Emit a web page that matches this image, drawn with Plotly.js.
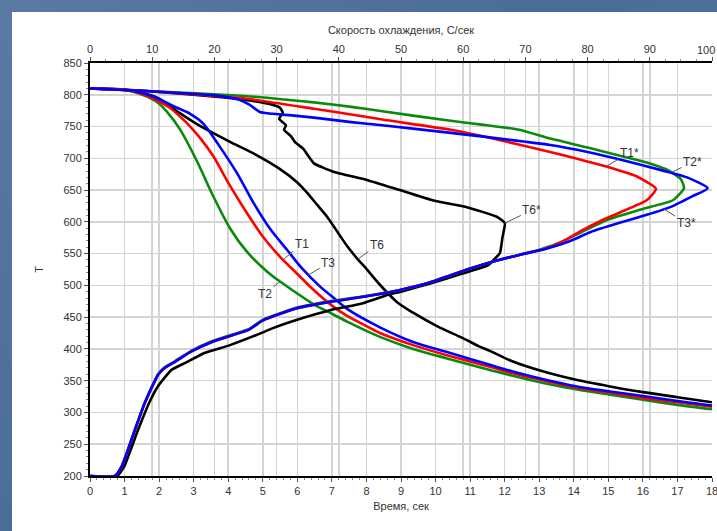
<!DOCTYPE html>
<html>
<head>
<meta charset="utf-8">
<script src="https://cdn.plot.ly/plotly-3.0.1.min.js"></script>
<style>
  html, body { margin:0; padding:0; width:717px; height:531px; overflow:hidden;
    background: linear-gradient(135deg, #5a7aa4 0%, #4b6c97 45%, #56779f 100%); }
  #panel { position:absolute; left:12px; top:12px; width:705px; height:519px; background:#ffffff; overflow:hidden; }
  #chart { width:720px; height:519px; }
</style>
</head>
<body>
<div id="panel"><div id="chart"></div></div>
<script>
// ---- cooling curves: time (s) vs temperature ----
const time_T1 = [0, 0.5, 1.0, 1.3, 1.6, 1.94, 2.3, 2.6, 2.9, 3.2, 3.56, 4.05, 4.54, 5.0, 5.5, 6.0, 6.45, 7.03, 7.44, 8.0, 8.39, 9.35, 10.33, 11.57, 12.2, 13.15, 14.1, 15.05, 16.0, 17.0, 18.0];
const temp_T1 = [810, 809, 808, 805, 799, 791, 780, 766, 750, 731, 704, 657, 614, 577, 545, 518, 494, 467, 452, 436, 425, 406, 390, 372, 362, 350, 339, 331, 323, 316, 309];

const time_T2 = [0, 0.5, 1.0, 1.3, 1.65, 2.0, 2.23, 2.6, 3.1, 3.56, 4.05, 4.54, 5.12, 5.5, 5.87, 6.45, 6.94, 7.44, 8.39, 9.35, 10.33, 11.57, 12.2, 13.15, 14.1, 15.05, 16.0, 17.0, 18.0];
const temp_T2 = [810, 809, 808, 804, 797, 786, 773, 746, 695, 641, 590, 553, 522, 506, 492, 471, 457, 443, 419, 400, 385, 367, 358, 346, 336, 328, 320, 312, 305];

const time_T3 = [0, 0.5, 1.0, 1.5, 2.0, 2.5, 2.9, 3.27, 3.76, 4.25, 4.72, 5.21, 5.7, 6.13, 6.66, 7.15, 7.44, 8.39, 9.35, 10.33, 11.57, 12.2, 13.15, 14.1, 15.05, 16.0, 17.0, 18.0];
const temp_T3 = [810, 809, 808, 803, 793, 780, 770, 755, 718, 677, 631, 589, 556, 527, 498, 476, 463, 434, 411, 395, 375, 365, 352, 341, 333, 326, 318, 311];

const time_T6 = [0, 0.5, 1.0, 1.5, 2.0, 2.6, 3.0, 3.38, 4.05, 4.72, 5.5, 6.0, 6.28, 6.57, 6.86, 7.44, 7.75, 8.0, 8.39, 8.88, 9.35, 10.04, 10.79, 11.26, 11.57, 12.2, 13.15, 14.1, 15.05, 16.0, 17.0, 18.0];
const temp_T6 = [810, 809, 808, 803, 794, 771, 757, 745, 726, 708, 683, 662, 646, 627, 608, 562, 541, 526, 501, 474, 457, 436, 417, 404, 397, 381, 364, 351, 341, 332, 324, 316];

// ---- cooling-rate curves: rate (C/s) vs temperature ----
const rate_T1s = [0, 9, 25, 36, 42, 47, 58, 63, 74, 83, 88, 91, 89.5, 85, 82, 79, 76, 73, 69, 65, 61, 58, 54.5, 49.5, 44, 38.6, 33.3, 27.8, 25.5, 23, 19.6, 16.3, 13.7, 12, 11, 10.5, 8.8, 7.2, 5.1, 4.0, 0];
const temp_T1s = [810, 806, 794, 778, 769, 761, 745, 735, 710, 687, 671, 652, 634, 614, 601, 586, 569, 557, 548, 538, 526, 516, 504, 492, 482, 474, 464, 445, 430, 422, 411, 396, 380, 370, 360, 351, 315, 272, 215, 200, 200];

const rate_T2s = [0, 9, 25, 36, 42, 47, 58, 63, 69, 74, 80, 86, 90, 93, 95, 95.5, 93.7, 88.4, 83.1, 79, 75.5, 72.5, 69, 65, 61, 58, 54.5, 49.5, 44, 38.6, 33.3, 27.8, 25.5, 23, 19.6, 16.3, 13.7, 12, 11, 10.5, 8.8, 7.2, 5.1, 4.0, 0];
const temp_T2s = [810, 806, 798, 788, 781, 774, 759, 753, 745, 731, 717, 702, 692, 681, 667, 653, 634, 619, 603, 584, 567, 557, 548, 538, 526, 516, 504, 492, 483, 475, 465, 446, 431, 423, 412, 397, 381, 371, 361, 352, 315, 272, 215, 200, 200];

const rate_T3s = [0, 9, 20, 24, 25.7, 27.3, 29.4, 32, 36, 42, 47, 58, 74, 80, 85.7, 92, 96, 99.3, 96.8, 93.5, 89.5, 85, 80.5, 77, 73.5, 69, 65, 61, 58, 54.5, 49.5, 44, 38.6, 33.3, 27.8, 25.5, 23, 19.6, 16.3, 13.7, 12, 11, 10.5, 8.8, 7.2, 5.1, 4.0, 0];
const temp_T3s = [810, 806, 799, 792, 784, 773, 770, 768, 764, 757, 752, 740, 721, 710, 697, 681, 670, 653, 640, 624, 611, 598, 584, 569, 558, 548, 538, 526, 516, 504, 492, 482, 474, 464, 445, 430, 422, 411, 396, 380, 370, 360, 351, 315, 272, 215, 200, 200];

const rate_T6s = [0, 9, 22.5, 25, 27, 29, 30.5, 31, 30.4, 31.5, 31.2, 32.3, 33, 34.3, 35, 36, 39.1, 44.5, 49.8, 55.1, 60.6, 65.4, 66.7, 66.3, 65.9, 64, 60, 54.7, 50, 48.2, 43.9, 38.6, 33.3, 29.2, 27.8, 22.5, 18.5, 15.3, 13.1, 10.9, 9.5, 7.7, 5.5, 4.4, 0];
const temp_T6s = [810, 806, 795, 792, 789, 785, 780, 772, 762, 752, 745, 735, 725, 715, 705, 692, 679, 666, 650, 634, 623, 608, 598, 575, 551, 532, 519, 503, 490, 486, 472, 461, 446, 432, 426, 406, 394, 378, 367, 341, 315, 272, 215, 200, 200];

// ---- labels ----
const curveLabels = ["T1", "T2", "T3", "T6", "T1*", "T2*", "T3*", "T6*"];
const rateTicks = [0, 10, 20, 30, 40, 50, 60, 70, 80, 90, 100];
const rateTickText = ["0", "10", "20", "30", "40", "50", "60", "70", "80", "90", ""];
const lastRateLabel = "100";
const colRed = "#ff0000", colGreen = "#0a8a0a", colBlue = "#0000ff", colBlack = "#000000";

function tr(x, y, color, xaxis, name, smooth) {
  return { x: x, y: y, xaxis: xaxis, yaxis: "y", type: "scatter", mode: "lines", name: name,
           line: { color: color, width: 2.6, shape: "spline", smoothing: smooth }, hoverinfo: "skip" };
}

const data = [
  tr(time_T6, temp_T6, colBlack, "x", curveLabels[3], 0.8),
  tr(rate_T6s, temp_T6s, colBlack, "x2", curveLabels[7], 0.4),
  tr(time_T2, temp_T2, colGreen, "x", curveLabels[1], 0.8),
  tr(rate_T2s, temp_T2s, colGreen, "x2", curveLabels[5], 0.5),
  tr(time_T1, temp_T1, colRed, "x", curveLabels[0], 0.8),
  tr(rate_T1s, temp_T1s, colRed, "x2", curveLabels[4], 0.5),
  tr(time_T3, temp_T3, colBlue, "x", curveLabels[2], 0.8),
  tr(rate_T3s, temp_T3s, colBlue, "x2", curveLabels[6], 0.5)
];

const fontFam = "Liberation Sans, Arial, sans-serif";
function lab(text, xref, x, y, ax, ay) {
  return { text: text, xref: xref, yref: "y", x: x, y: y, ax: ax, ay: ay,
           showarrow: true, arrowhead: 0, arrowwidth: 1, arrowcolor: "#555555",
           standoff: 0, startstandoff: 0,
           font: { family: fontFam, size: 12, color: "#333333" } };
}

const tickFont = { family: fontFam, size: 11, color: "#333333" };
const gridCol = "#d4d4d4";

const layout = {
  width: 720, height: 519,
  margin: { l: 78, r: 20, t: 51, b: 55 },
  paper_bgcolor: "#ffffff", plot_bgcolor: "#ffffff",
  showlegend: false,
  font: { family: fontFam, size: 11, color: "#333333" },
  xaxis: {
    range: [0, 18], dtick: 1, tick0: 0, showgrid: true, gridcolor: gridCol, gridwidth: 1.5,
    zeroline: false, showline: true, linecolor: "#000", linewidth: 2,
    ticks: "outside", ticklen: 4, tickcolor: "#555", tickfont: tickFont,
    minor: { dtick: 0.2, ticks: "outside", ticklen: 2, tickcolor: "#888", showgrid: false },
    title: { text: "Время, сек", font: { size: 11, color: "#333" }, standoff: 6 }
  },
  xaxis2: {
    overlaying: "x", side: "top", anchor: "y",
    range: [0, 100], tickmode: "array", tickvals: rateTicks, ticktext: rateTickText,
    showgrid: true, gridcolor: gridCol, gridwidth: 1.5,
    zeroline: false, showline: true, linecolor: "#000", linewidth: 2,
    ticks: "outside", ticklen: 4, tickcolor: "#555", tickfont: tickFont,
    minor: { dtick: 2.5, ticks: "outside", ticklen: 2, tickcolor: "#888", showgrid: false },
    title: { text: "Скорость охлаждения, С/сек", font: { size: 11, color: "#333" }, standoff: 6 }
  },
  yaxis: {
    range: [200, 850], dtick: 50, tick0: 200, showgrid: true, gridcolor: gridCol, gridwidth: 1.5,
    zeroline: false, showline: true, linecolor: "#000", linewidth: 2,
    ticks: "outside", ticklen: 4, tickcolor: "#555", tickfont: tickFont,
    minor: { dtick: 10, ticks: "outside", ticklen: 2, tickcolor: "#888", showgrid: false },
    title: { text: "T", font: { size: 11, color: "#333" }, standoff: 18 }
  },
  annotations: [
    lab(curveLabels[0], "x", 5.58, 540, 19, -16),
    lab(curveLabels[2], "x", 6.31, 516, 20, -12),
    lab(curveLabels[1], "x", 5.5, 506, -15, 12),
    lab(curveLabels[3], "x", 7.75, 541, 19, -14),
    lab(curveLabels[4], "x2", 83, 687, 23, -14),
    lab(curveLabels[5], "x2", 93.5, 678, 21, -10),
    lab(curveLabels[6], "x2", 92.3, 620, 22, 14),
    lab(curveLabels[7], "x2", 66.7, 598, 27, -13),
    { text: lastRateLabel, xref: "paper", yref: "paper", x: 1, y: 1, xanchor: "right", yanchor: "bottom",
      xshift: 4, yshift: 6, showarrow: false, borderpad: 0, font: tickFont }
  ]
};

Plotly.newPlot("chart", data, layout, { staticPlot: true, displayModeBar: false });
</script>
</body>
</html>
